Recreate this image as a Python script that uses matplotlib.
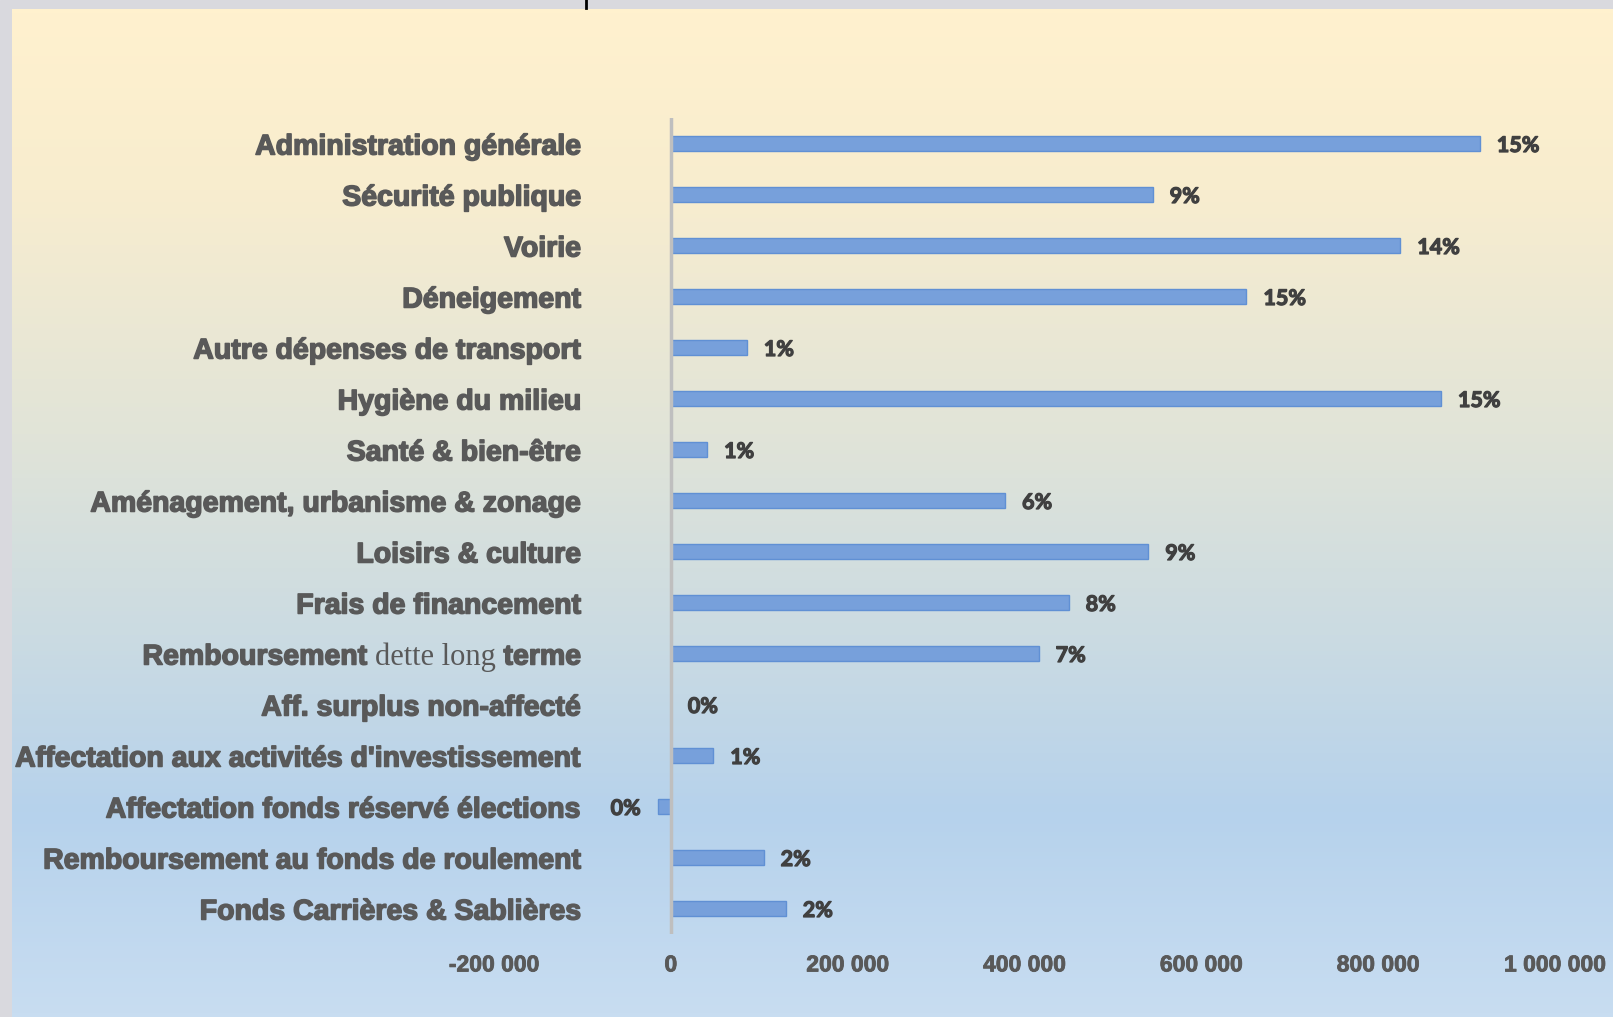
import numpy as np
import matplotlib
matplotlib.use("Agg")
import matplotlib.pyplot as plt
import matplotlib.transforms as mtrans
import matplotlib.patheffects as pe
from matplotlib.colors import LinearSegmentedColormap

categories = [
    "Administration générale",
    "Sécurité publique",
    "Voirie",
    "Déneigement",
    "Autre dépenses de transport",
    "Hygiène du milieu",
    "Santé & bien-être",
    "Aménagement, urbanisme & zonage",
    "Loisirs & culture",
    "Frais de financement",
    "Remboursement dette long terme",
    "Aff. surplus non-affecté",
    "Affectation aux activités d'investissement",
    "Affectation fonds réservé élections",
    "Remboursement au fonds de roulement",
    "Fonds Carrières & Sablières",
]
values = [915000, 545000, 825000, 651000, 86000, 871000, 41000, 378000,
          540000, 450000, 416000, 0, 48000, -15000, 105000, 130000]
pct_labels = ["15%", "9%", "14%", "15%", "1%", "15%", "1%", "6%",
              "9%", "8%", "7%", "0%", "1%", "0%", "2%", "2%"]
xticks = [-200000, 0, 200000, 400000, 600000, 800000, 1000000]
xtick_labels = ["-200 000", "0", "200 000", "400 000", "600 000", "800 000", "1 000 000"]

W, H = 1613, 1017
fig = plt.figure(figsize=(W / 100, H / 100), dpi=100)

# background
bg = fig.add_axes([0, 0, 1, 1], zorder=-10)
bg.set_axis_off()
bg.set_xlim(0, W)
bg.set_ylim(H, 0)
bg.add_patch(plt.Rectangle((0, 0), W, H, color="#D9D9DE"))
cmap = LinearSegmentedColormap.from_list(
    "g", [(0.0, "#FFF1CE"), (0.18, "#F8EDCF"), (0.42, "#E1E4D8"),
          (0.62, "#CBDBE2"), (0.80, "#B6D2EC"), (1.0, "#C8DDF1")])
grad = np.linspace(0, 1, 256).reshape(-1, 1)
bg.imshow(grad, cmap=cmap, aspect="auto", extent=(12, W, H, 9), zorder=1)
bg.plot([586, 586], [0, 8], color="black", lw=2, zorder=2)

ax = fig.add_axes([494 / W, 1 - 934 / H, (1555 - 494) / W, (934 - 118) / H])
ax.patch.set_alpha(0)
y = np.arange(len(categories))
ax.barh(y, values, height=0.3, color="#77A0DB", edgecolor="#6090D4", linewidth=1, zorder=3)
ax.axvline(0, color="#BFBFBF", lw=2.5, zorder=4)
ax.set_xlim(-200000, 1000000)
ax.set_ylim(len(categories) - 0.5, -0.5)
for s in ax.spines.values():
    s.set_visible(False)
ax.set_yticks([])
ax.set_xticks(xticks)
ax.set_xticklabels(xtick_labels, fontsize=16.5, fontweight="bold", color="#595959",
                   family="Liberation Sans")
for t in ax.get_xticklabels():
    t.set_path_effects([pe.withStroke(linewidth=0.6, foreground="#595959")])
ax.tick_params(axis="x", length=0, pad=14)

# percent labels
pshift = mtrans.ScaledTranslation(0, -2 / 100, fig.dpi_scale_trans)
pstroke = [pe.withStroke(linewidth=0.9, foreground="#404040")]
off = 0.016 * 1200000
for yi, v, lab in zip(y, values, pct_labels):
    if v < 0:
        t = ax.text(v - off, yi, lab, ha="right", va="center", fontsize=15.5,
                    fontweight="bold", color="#404040", family="Lato",
                    transform=ax.transData + pshift)
    else:
        t = ax.text(v + off, yi, lab, ha="left", va="center", fontsize=15.5,
                    fontweight="bold", color="#404040", family="Lato",
                    transform=ax.transData + pshift)
    t.set_path_effects(pstroke)

# category labels
shift = mtrans.ScaledTranslation(0, -4 / 100, fig.dpi_scale_trans)
tr = ax.get_yaxis_transform() + shift
xr = (581 - 494) / (1555 - 494)
stroke = [pe.withStroke(linewidth=1.1, foreground="#595959")]
lab_kw = dict(fontsize=20.5, fontweight="bold", color="#595959", family="Liberation Sans")
fig.canvas.draw()
renderer = fig.canvas.get_renderer()
for yi, cat in zip(y, categories):
    if cat == "Remboursement dette long terme":
        pieces = [("Remboursement ", lab_kw, True),
                  ("dette long ", dict(fontsize=22, color="#595959", family="Liberation Serif"), False),
                  ("terme", lab_kw, True)]
        xcur = 581
        for txt, kw, bold in reversed(pieces):
            t = ax.text(0, yi, txt, ha="right", va="center", **kw)
            t.set_transform(mtrans.blended_transform_factory(
                mtrans.IdentityTransform(), ax.transData) + shift)
            t.set_x(xcur)
            if bold:
                t.set_path_effects(stroke)
            bb = t.get_window_extent(renderer)
            xcur = bb.x0
    else:
        t = ax.text(xr, yi, cat, ha="right", va="center", transform=tr, **lab_kw)
        t.set_path_effects(stroke)

fig.savefig("out.png", dpi=100)
